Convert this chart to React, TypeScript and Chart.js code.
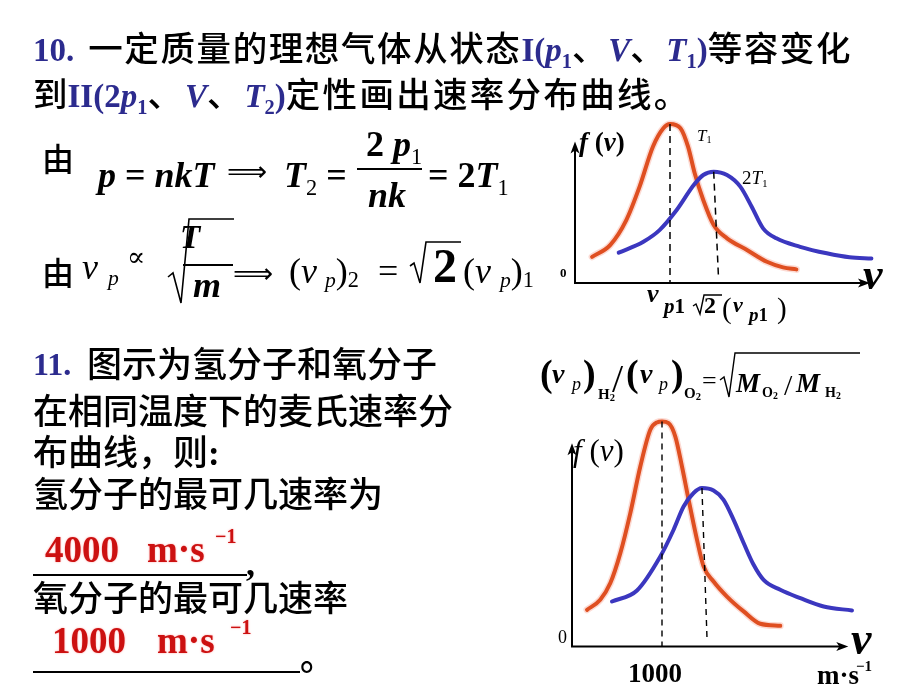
import React, { useEffect, useRef } from "react";
import { Chart, registerables } from "chart.js";
Chart.register(...registerables);

// ---------- Chart 1: same gas at T1 and 2T1 (speed in units of v_p1, f(v) normalised) ----------
const c1RedV = [0.18, 0.37, 0.54, 0.68, 0.82, 0.93, 1.0, 1.11, 1.19, 1.26, 1.35, 1.46, 1.6, 1.81, 2.02, 2.19, 2.33];
const c1RedF = [0.165, 0.239, 0.396, 0.606, 0.857, 0.973, 1.0, 0.973, 0.857, 0.69, 0.522, 0.365, 0.281, 0.208, 0.134, 0.099, 0.086];
const c1BlueV = [0.46, 0.72, 0.89, 1.07, 1.25, 1.35, 1.46, 1.6, 1.74, 1.86, 1.98, 2.12, 2.37, 2.65, 2.89, 3.12];
const c1BlueF = [0.191, 0.26, 0.333, 0.459, 0.616, 0.679, 0.7, 0.679, 0.606, 0.48, 0.344, 0.281, 0.228, 0.187, 0.162, 0.155];
const c1RedDashV = [1.0, 1.0];
const c1RedDashF = [1.0, 0];
const c1BlueDashV = [1.46, 1.51];
const c1BlueDashF = [0.7, 0.04];
const c1AxisEnd = [3.105, 0.889];

// ---------- Chart 2: O2 (red) and H2 (blue) at same temperature, v in m/s ----------
const c2RedV = [167, 314, 426, 537, 648, 759, 870, 944, 1000, 1073, 1148, 1222, 1296, 1389, 1462, 1573, 1722, 1907, 2092, 2314];
const c2RedF = [0.163, 0.208, 0.282, 0.415, 0.593, 0.8, 0.963, 0.996, 1.0, 0.993, 0.933, 0.8, 0.652, 0.474, 0.356, 0.289, 0.222, 0.156, 0.101, 0.092];
const c2BlueV = [444, 722, 981, 1129, 1240, 1351, 1444, 1573, 1684, 1796, 1907, 2018, 2129, 2314, 2537, 2796, 3111];
const c2BlueF = [0.2, 0.249, 0.4, 0.519, 0.622, 0.682, 0.704, 0.693, 0.652, 0.563, 0.46, 0.363, 0.296, 0.252, 0.215, 0.178, 0.16];
const c2RedDashV = [1000, 1000];
const c2RedDashF = [1.0, 0];
const c2BlueDashV = [1444, 1500];
const c2BlueDashF = [0.704, 0.037];
const c2AxisEnd = [3070, 0.903];

const RED_LINE = "#df4f21";
const RED_HALO = "rgba(246,150,130,0.35)";
const BLUE_LINE = "#3b37bf";

type Series = { v: number[]; f: number[]; color: string; width: number; dash?: number[]; order: number };

function Plot(props: {
  left: number; top: number; width: number; height: number;
  xMin: number; xMax: number; yMin: number; yMax: number;
  series: Series[]; axisEnd: number[];
}) {
  const ref = useRef<HTMLCanvasElement>(null);
  useEffect(() => {
    const { series, axisEnd } = props;
    const axisPlugin = {
      id: "arrowAxes",
      beforeDatasetsDraw(chart: any) {
        const { ctx } = chart;
        const x = chart.scales.x, y = chart.scales.y;
        const x0 = x.getPixelForValue(0), y0 = y.getPixelForValue(0);
        const xe = x.getPixelForValue(axisEnd[0]), ye = y.getPixelForValue(axisEnd[1]);
        ctx.save();
        ctx.strokeStyle = "#000";
        ctx.fillStyle = "#000";
        ctx.lineWidth = 2;
        ctx.beginPath();
        ctx.moveTo(x0, y0 + 1);
        ctx.lineTo(x0, ye + 6);
        ctx.moveTo(x0 - 1, y0);
        ctx.lineTo(xe - 6, y0);
        ctx.stroke();
        ctx.beginPath();
        ctx.moveTo(x0, ye);
        ctx.lineTo(x0 - 4.5, ye + 12);
        ctx.lineTo(x0, ye + 9);
        ctx.lineTo(x0 + 4.5, ye + 12);
        ctx.closePath();
        ctx.fill();
        ctx.beginPath();
        ctx.moveTo(xe, y0);
        ctx.lineTo(xe - 12, y0 - 4.5);
        ctx.lineTo(xe - 9, y0);
        ctx.lineTo(xe - 12, y0 + 4.5);
        ctx.closePath();
        ctx.fill();
        ctx.restore();
      },
    };
    const chart = new Chart(ref.current as HTMLCanvasElement, {
      type: "line",
      data: {
        datasets: series.map((s) => ({
          data: s.v.map((v, i) => ({ x: v, y: s.f[i] })),
          borderColor: s.color,
          borderWidth: s.width,
          borderDash: s.dash || [],
          pointRadius: 0,
          fill: false,
          order: s.order,
          cubicInterpolationMode: s.dash ? "default" : "monotone",
          tension: 0,
          borderCapStyle: s.dash ? "butt" : "round",
          borderJoinStyle: "round",
        })) as any,
      },
      options: {
        animation: false,
        responsive: false,
        events: [],
        layout: { padding: 0 },
        plugins: { legend: { display: false }, tooltip: { enabled: false } },
        scales: {
          x: { type: "linear", min: props.xMin, max: props.xMax, display: false },
          y: { type: "linear", min: props.yMin, max: props.yMax, display: false },
        },
      } as any,
      plugins: [axisPlugin],
    });
    return () => chart.destroy();
  }, []);
  return (
    <canvas
      ref={ref}
      width={props.width}
      height={props.height}
      style={{ position: "absolute", left: props.left, top: props.top, width: props.width, height: props.height }}
    />
  );
}

// ---------- text helpers ----------
const CJK = '"Noto Sans CJK SC", "Noto Sans", sans-serif';
const TNR = '"Liberation Serif", "Times New Roman", "DejaVu Serif", serif';
const BLUE = "#2c2b8e";
const RED = "#cc1111";
const CJKW = 500;

const B: any = { fontFamily: TNR, fontWeight: "bold", fontStyle: "normal" };
const BI: any = { fontFamily: TNR, fontWeight: "bold", fontStyle: "italic" };
const I: any = { fontFamily: TNR, fontWeight: "normal", fontStyle: "italic" };
const R: any = { fontFamily: TNR, fontWeight: "normal", fontStyle: "normal" };

function T(p: { x: number; b: number; s: number; serif?: boolean; style?: any; children?: any }) {
  const top = p.b - (p.serif ? 0.8375 : 0.936) * p.s;
  return (
    <div
      style={{
        position: "absolute",
        left: p.x,
        top,
        fontSize: p.s,
        lineHeight: p.s + "px",
        fontFamily: p.serif ? TNR : CJK,
        fontWeight: p.serif ? "normal" : CJKW,
        whiteSpace: "nowrap",
        color: "#000",
        ...(p.style || {}),
      }}
    >
      {p.children}
    </div>
  );
}

function Sub(p: { children?: any; k?: number; d?: number; style?: any }) {
  return (
    <span style={{ fontSize: (p.k || 0.62) + "em", position: "relative", top: (p.d ?? 0.35) + "em", ...(p.style || {}) }}>
      {p.children}
    </span>
  );
}

function HLine(p: { x: number; y: number; w: number; h?: number }) {
  return <div style={{ position: "absolute", left: p.x, top: p.y, width: p.w, height: p.h || 2, background: "#000" }} />;
}

const ARROW: any = { fontFamily: '"DejaVu Sans", sans-serif', fontWeight: "normal", fontStyle: "normal" };
const redGlow = "0 0 2px rgba(255,120,120,0.7)";
const LAT = 33; // size of the Latin parts inside the Chinese title lines
const LS1 = 1.6; // the first title line is justified in the slide
const LS2 = 2.3;

export default function App() {
  const chart1: Series[] = [
    { v: c1RedV, f: c1RedF, color: RED_HALO, width: 7, order: 9 },
    { v: c1RedV, f: c1RedF, color: RED_LINE, width: 4, order: 5 },
    { v: c1BlueV, f: c1BlueF, color: BLUE_LINE, width: 4, order: 4 },
    { v: c1RedDashV, f: c1RedDashF, color: "#000", width: 1.5, dash: [7, 5], order: 1 },
    { v: c1BlueDashV, f: c1BlueDashF, color: "#000", width: 1.5, dash: [7, 5], order: 1 },
  ];
  const chart2: Series[] = [
    { v: c2RedV, f: c2RedF, color: RED_HALO, width: 7, order: 9 },
    { v: c2RedV, f: c2RedF, color: RED_LINE, width: 4, order: 5 },
    { v: c2BlueV, f: c2BlueF, color: BLUE_LINE, width: 4, order: 4 },
    { v: c2RedDashV, f: c2RedDashF, color: "#000", width: 1.4, dash: [6, 5], order: 1 },
    { v: c2BlueDashV, f: c2BlueDashF, color: "#000", width: 1.4, dash: [6, 5], order: 1 },
  ];

  return (
    <div style={{ position: "absolute", left: 0, top: 0, width: 920, height: 690, background: "#fff", overflow: "hidden" }}>
      <Plot left={556} top={108} width={342} height={191} xMin={-0.2} xMax={3.4} yMin={-0.1} yMax={1.1} series={chart1} axisEnd={c1AxisEnd} />
      <Plot left={554} top={399} width={324} height={270} xMin={-200} xMax={3400} yMin={-0.1} yMax={1.1} series={chart2} axisEnd={c2AxisEnd} />

      {/* radicals */}
      <svg width={920} height={690} style={{ position: "absolute", left: 0, top: 0 }}>
        <g fill="none" stroke="#000" strokeLinejoin="miter">
          <polyline points="168,277 173,273 181,303 189,219 234,219" strokeWidth={1.6} />
          <polyline points="410,266 414,263 420,283 426,242 461,242" strokeWidth={1.6} />
          <polyline points="720,380 724,377 729,397 735,353 860,353" strokeWidth={1.4} />
          <polyline points="693,306 696,304 700,314 704,295 722,295" strokeWidth={1.4} />
        </g>
      </svg>

      {/* ---- Problem 10 ---- */}
      <T x={33} b={61} s={34.5}>
        <span style={{ ...B, color: BLUE, fontSize: LAT }}>10.</span>
        <span style={{ marginLeft: 14, letterSpacing: LS1 }}>一定质量的理想气体从状态</span>
        <span style={{ ...B, color: BLUE, fontSize: LAT }}>I(<span style={BI}>p</span><Sub>1</Sub></span>
        <span style={{ letterSpacing: LS1 }}>、</span>
        <span style={{ ...BI, color: BLUE, fontSize: LAT }}>V</span>
        <span style={{ letterSpacing: LS1 }}>、</span>
        <span style={{ ...BI, color: BLUE, fontSize: LAT }}>T</span>
        <span style={{ ...B, color: BLUE, fontSize: LAT }}><Sub>1</Sub>)</span>
        <span style={{ letterSpacing: LS1 }}>等容变化</span>
      </T>
      <T x={33} b={107} s={34.5}>
        到<span style={{ ...B, color: BLUE, fontSize: LAT }}>II(2<span style={BI}>p</span><Sub>1</Sub></span>
        、<span style={{ ...BI, color: BLUE, fontSize: LAT, marginLeft: 3 }}>V</span>、<span style={{ ...BI, color: BLUE, fontSize: LAT, marginLeft: 3 }}>T</span>
        <span style={{ ...B, color: BLUE, fontSize: LAT }}><Sub>2</Sub>)</span>
        <span style={{ letterSpacing: LS2 }}>定性画出速率分布曲线。</span>
      </T>

      {/* formula 1 */}
      <T x={42} b={171} s={32}>由</T>
      <T serif x={98} b={187} s={36} style={BI}>
        p <span style={B}>=</span> nkT
      </T>
      <T serif x={227} b={181} s={28} style={ARROW}>⟹</T>
      <T serif x={284} b={187} s={36} style={BI}>
        T<Sub style={R}>2</Sub> <span style={B}>=</span>
      </T>
      <T serif x={366} b={156} s={36} style={B}>
        2 <span style={BI}>p</span><Sub style={R}>1</Sub>
      </T>
      <HLine x={357} y={168} w={65} />
      <T serif x={368} b={207} s={36} style={BI}>nk</T>
      <T serif x={428} b={187} s={36} style={B}>
        = 2<span style={BI}>T</span><Sub style={R}>1</Sub>
      </T>

      {/* formula 2 */}
      <T x={42} b={285} s={32}>由</T>
      <T serif x={82} b={279} s={36} style={I}>
        v<Sub k={0.6} d={0.3} style={{ marginLeft: 10 }}>p</Sub>
      </T>
      <T serif x={127} b={267} s={27} style={R}>∝</T>
      <T serif x={180} b={249} s={33} style={BI}>T</T>
      <HLine x={183} y={264} w={50} h={1.5} />
      <T serif x={193} b={297} s={36} style={BI}>m</T>
      <T serif x={233} b={283} s={28} style={ARROW}>⟹</T>
      <T serif x={289} b={283} s={36} style={R}>
        (<span style={I}>v</span>
        <Sub k={0.6} d={0.2} style={{ ...I, marginLeft: 8 }}>p</Sub>)<Sub k={0.62} d={0.2}>2</Sub>
      </T>
      <T serif x={378} b={283} s={36} style={R}>=</T>
      <T serif x={433} b={282} s={48} style={B}>2</T>
      <T serif x={463} b={283} s={36} style={R}>
        (<span style={I}>v</span>
        <Sub k={0.6} d={0.2} style={{ ...I, marginLeft: 9 }}>p</Sub>)<Sub k={0.62} d={0.2}>1</Sub>
      </T>

      {/* chart 1 labels */}
      <T serif x={579} b={152} s={27} style={BI}>
        f <span style={B}>(</span>v<span style={B}>)</span>
      </T>
      <T serif x={697} b={141} s={17} style={I}>
        T<Sub k={0.6} d={0.25} style={R}>1</Sub>
      </T>
      <T serif x={742} b={184} s={19} style={R}>
        2<span style={I}>T</span><Sub k={0.6} d={0.25}>1</Sub>
      </T>
      <T serif x={560} b={277} s={13} style={B}>0</T>
      <T serif x={863} b={290} s={44} style={BI}>v</T>
      <T serif x={647} b={303} s={26} style={BI}>v</T>
      <T serif x={664} b={314} s={21} style={B}>
        <span style={BI}>p</span>1
      </T>
      <T serif x={704} b={313} s={24} style={B}>2</T>
      <T serif x={722} b={318} s={29} style={R}>(</T>
      <T serif x={733} b={312} s={22} style={BI}>v</T>
      <T serif x={749} b={321} s={19} style={B}>
        <span style={BI}>p</span>1
      </T>
      <T serif x={777} b={318} s={29} style={R}>)</T>

      {/* ---- Problem 11 ---- */}
      <T serif x={33} b={375} s={32} style={{ ...B, color: BLUE }}>11.</T>
      <T x={87} b={377} s={35}>图示为氢分子和氧分子</T>
      <T x={33} b={424} s={35}>在相同温度下的麦氏速率分</T>
      <T x={33} b={465} s={35}>
        布曲线，则<span style={B}>:</span>
      </T>
      <T x={33} b={507} s={35}>氢分子的最可几速率为</T>

      <T serif x={45} b={562} s={37} style={{ ...B, color: RED, textShadow: redGlow }}>4000</T>
      <T serif x={147} b={562} s={37} style={{ ...B, color: RED, textShadow: redGlow }}>m·s</T>
      <T serif x={215} b={543} s={20} style={{ ...B, color: RED, textShadow: redGlow }}>−1</T>
      <HLine x={33} y={574} w={214} />
      <T serif x={246} b={575} s={36} style={B}>,</T>

      <T x={33} b={611} s={35}>氧分子的最可几速率</T>
      <T serif x={52} b={653} s={37} style={{ ...B, color: RED, textShadow: redGlow }}>1000</T>
      <T serif x={157} b={653} s={37} style={{ ...B, color: RED, textShadow: redGlow }}>m·s</T>
      <T serif x={230} b={634} s={20} style={{ ...B, color: RED, textShadow: redGlow }}>−1</T>
      <HLine x={33} y={671} w={267} />
      <T x={300} b={670} s={35}>。</T>

      {/* chart 2 formula */}
      <T serif x={540} b={386} s={38} style={B}>(</T>
      <T serif x={552} b={383} s={28} style={BI}>v</T>
      <T serif x={572} b={390} s={18} style={I}>p</T>
      <T serif x={583} b={386} s={38} style={B}>)</T>
      <T serif x={598} b={400} s={15} style={B}>
        H<Sub k={0.7} d={0.15}>2</Sub>
      </T>
      <T serif x={612} b={392} s={40} style={R}>/</T>
      <T serif x={626} b={386} s={38} style={B}>(</T>
      <T serif x={640} b={383} s={28} style={BI}>v</T>
      <T serif x={659} b={390} s={18} style={I}>p</T>
      <T serif x={671} b={386} s={38} style={B}>)</T>
      <T serif x={684} b={399} s={15} style={B}>
        O<Sub k={0.7} d={0.15}>2</Sub>
      </T>
      <T serif x={702} b={390} s={26} style={R}>=</T>
      <T serif x={736} b={393} s={27} style={BI}>M</T>
      <T serif x={762} b={398} s={14} style={B}>
        O<Sub k={0.7} d={0.15}>2</Sub>
      </T>
      <T serif x={784} b={395} s={30} style={R}>/</T>
      <T serif x={796} b={393} s={27} style={BI}>M</T>
      <T serif x={825} b={398} s={14} style={B}>
        H<Sub k={0.7} d={0.15}>2</Sub>
      </T>

      {/* chart 2 labels */}
      <T serif x={573} b={461} s={31} style={I}>
        f <span style={R}>(</span>v<span style={R}>)</span>
      </T>
      <T serif x={558} b={643} s={18} style={R}>0</T>
      <T serif x={851} b={655} s={46} style={BI}>v</T>
      <T serif x={628} b={683} s={27} style={B}>1000</T>
      <T serif x={817} b={685} s={27} style={B}>m·s</T>
      <T serif x={856} b={672} s={15} style={B}>−1</T>
    </div>
  );
}
